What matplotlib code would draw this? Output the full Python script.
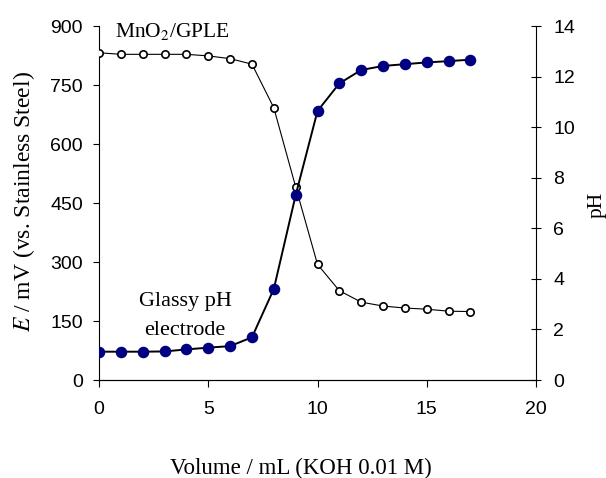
import matplotlib.pyplot as plt

volume = [0, 1, 2, 3, 4, 5, 6, 7, 8, 9, 10, 11, 12, 13, 14, 15, 16, 17]
E_mv = [832, 828, 828, 828, 828, 824, 817, 803, 692, 491, 294, 227, 198, 188, 183, 180, 175, 174]
pH = [1.12, 1.12, 1.12, 1.13, 1.21, 1.28, 1.34, 1.69, 3.6, 7.31, 10.64, 11.73, 12.26, 12.42, 12.49, 12.56, 12.61, 12.67]

plt.rcParams['font.family'] = ['Liberation Sans', 'DejaVu Sans']
serif = 'Liberation Serif'

fig = plt.figure(figsize=(6.06, 4.78), dpi=100)
ax = fig.add_axes([0.1634, 0.205, 0.8845 - 0.1634, 0.9456 - 0.205])
ax2 = ax.twinx()

ax.plot(volume, E_mv, '-o', color='black', lw=0.8, ms=5.3, mfc='white', mec='black', mew=1.2, zorder=3)
ax2.plot(volume, pH, '-o', color='black', lw=1.4, ms=7.3, mfc='#000080', mec='#000080', zorder=3)

ax.set_xlim(0, 20)
ax.set_ylim(0, 900)
ax2.set_ylim(0, 14)
ax.set_xticks([0, 5, 10, 15, 20])
ax.set_yticks(range(0, 901, 150))
ax2.set_yticks(range(0, 15, 2))

for a in (ax, ax2):
    a.spines['top'].set_visible(False)
    a.tick_params(labelsize=14, width=0.8, colors='black')
ax2.spines['left'].set_visible(False)
ax.spines['right'].set_visible(False)
ax.tick_params(axis='y', length=4.5, pad=7)
ax.tick_params(axis='x', length=5, pad=10)
ax2.tick_params(axis='y', direction='inout', length=7, pad=9)

fig.text(0.497, 0.008, 'Volume / mL (KOH 0.01 M)', family=serif,
         fontsize=16.5, ha='center', va='baseline')
ax.set_ylabel('$E$ / mV (vs. Stainless Steel)', family=serif, fontsize=17, math_fontfamily='stix')
ax.yaxis.set_label_coords(-0.142, 0.503)
ax2.set_ylabel('pH', family=serif, fontsize=15.5)
ax2.yaxis.set_label_coords(1.117, 0.494)

ax.text(0.75, 872, 'MnO$_2$/GPLE', family=serif, fontsize=15.5, va='baseline', ha='left',
        math_fontfamily='stix')
ax.text(3.94, 188, 'Glassy pH', family=serif, fontsize=16, ha='center', va='baseline')
ax.text(3.94, 114, 'electrode', family=serif, fontsize=16, ha='center', va='baseline')

fig.savefig('out.png', dpi=100)
